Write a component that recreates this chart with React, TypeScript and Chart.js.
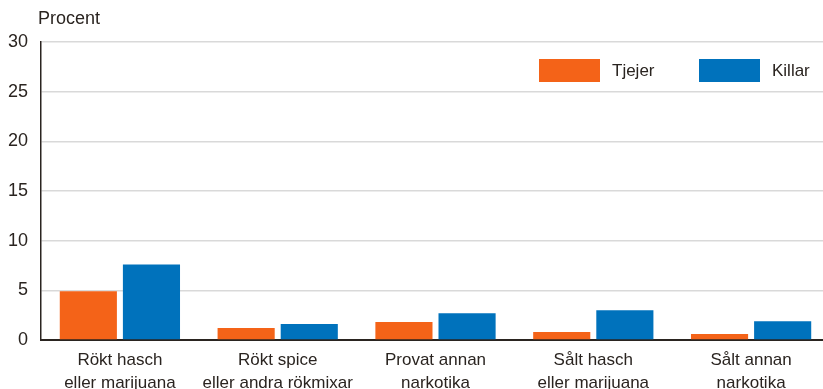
import React, { useEffect, useRef } from "react";
import { Chart, registerables } from "chart.js";

Chart.register(...registerables);

const categories: string[][] = [
  ["Rökt hasch", "eller marijuana"],
  ["Rökt spice", "eller andra rökmixar"],
  ["Provat annan", "narkotika"],
  ["Sålt hasch", "eller marijuana"],
  ["Sålt annan", "narkotika"],
];
const tjejer = [4.9, 1.2, 1.8, 0.8, 0.6];
const killar = [7.6, 1.6, 2.7, 3.0, 1.9];
const seriesNames = ["Tjejer", "Killar"];
const colors = ["#F46318", "#0072BC"];
const yTicks = [0, 5, 10, 15, 20, 25, 30];

const TEXT = "#2a2420";
const FONT = "'Liberation Sans', Arial, Helvetica, sans-serif";

const overlayPlugin = {
  id: "overlay",
  afterDraw(chart: any) {
    const ctx = chart.ctx;
    const area = chart.chartArea;
    ctx.save();
    ctx.fillStyle = TEXT;
    ctx.font = `18px ${FONT}`;
    ctx.textBaseline = "alphabetic";
    ctx.textAlign = "left";
    ctx.fillText("Procent", 38, 24);
    // legend
    const boxW = 61, boxH = 23;
    const starts = [539, 699];
    seriesNames.forEach((name, i) => {
      const x = starts[i];
      const y = area.top + 17;
      ctx.fillStyle = colors[i];
      ctx.fillRect(x, y, boxW, boxH);
      ctx.fillStyle = TEXT;
      ctx.font = `17px ${FONT}`;
      ctx.textBaseline = "middle";
      ctx.fillText(name, x + boxW + 12, y + boxH / 2 + 1);
    });
    ctx.restore();
  },
};

export default function App() {
  const ref = useRef<HTMLCanvasElement>(null);
  useEffect(() => {
    const chart = new Chart(ref.current!, {
      type: "bar",
      data: {
        labels: categories,
        datasets: [
          { label: seriesNames[0], data: tjejer, backgroundColor: colors[0], barPercentage: 0.905, categoryPercentage: 0.8 },
          { label: seriesNames[1], data: killar, backgroundColor: colors[1], barPercentage: 0.905, categoryPercentage: 0.8 },
        ],
      },
      options: {
        animation: false,
        responsive: false,
        maintainAspectRatio: false,
        layout: { padding: { top: 42, right: 0, left: 0, bottom: 0 } },
        plugins: { legend: { display: false }, tooltip: { enabled: false }, title: { display: false } },
        scales: {
          x: {
            grid: { display: false, drawTicks: false },
            border: { display: true, color: TEXT, width: 2 },
            ticks: { color: TEXT, font: { family: FONT, size: 17, lineHeight: 1.35 }, padding: 9, maxRotation: 0, autoSkip: false },
            afterFit(scale: any) { scale.height = 49; },
          },
          y: {
            min: 0,
            max: 30,
            afterBuildTicks(scale: any) { scale.ticks = yTicks.map((v) => ({ value: v })); },
            grid: { color: "#d9d9d9", lineWidth: 1.5, drawTicks: false },
            border: { display: true, color: TEXT, width: 1.5 },
            ticks: { color: TEXT, font: { family: FONT, size: 18 }, padding: 13 },
            afterFit(scale: any) { scale.width = 41; },
          },
        },
      },
      plugins: [overlayPlugin],
    });
    return () => chart.destroy();
  }, []);
  return (
    <div style={{ position: "absolute", left: 0, top: 0, width: 823, height: 389, overflow: "hidden", background: "#fff" }}>
      <canvas ref={ref} width={830} height={389} style={{ display: "block" }} />
    </div>
  );
}
